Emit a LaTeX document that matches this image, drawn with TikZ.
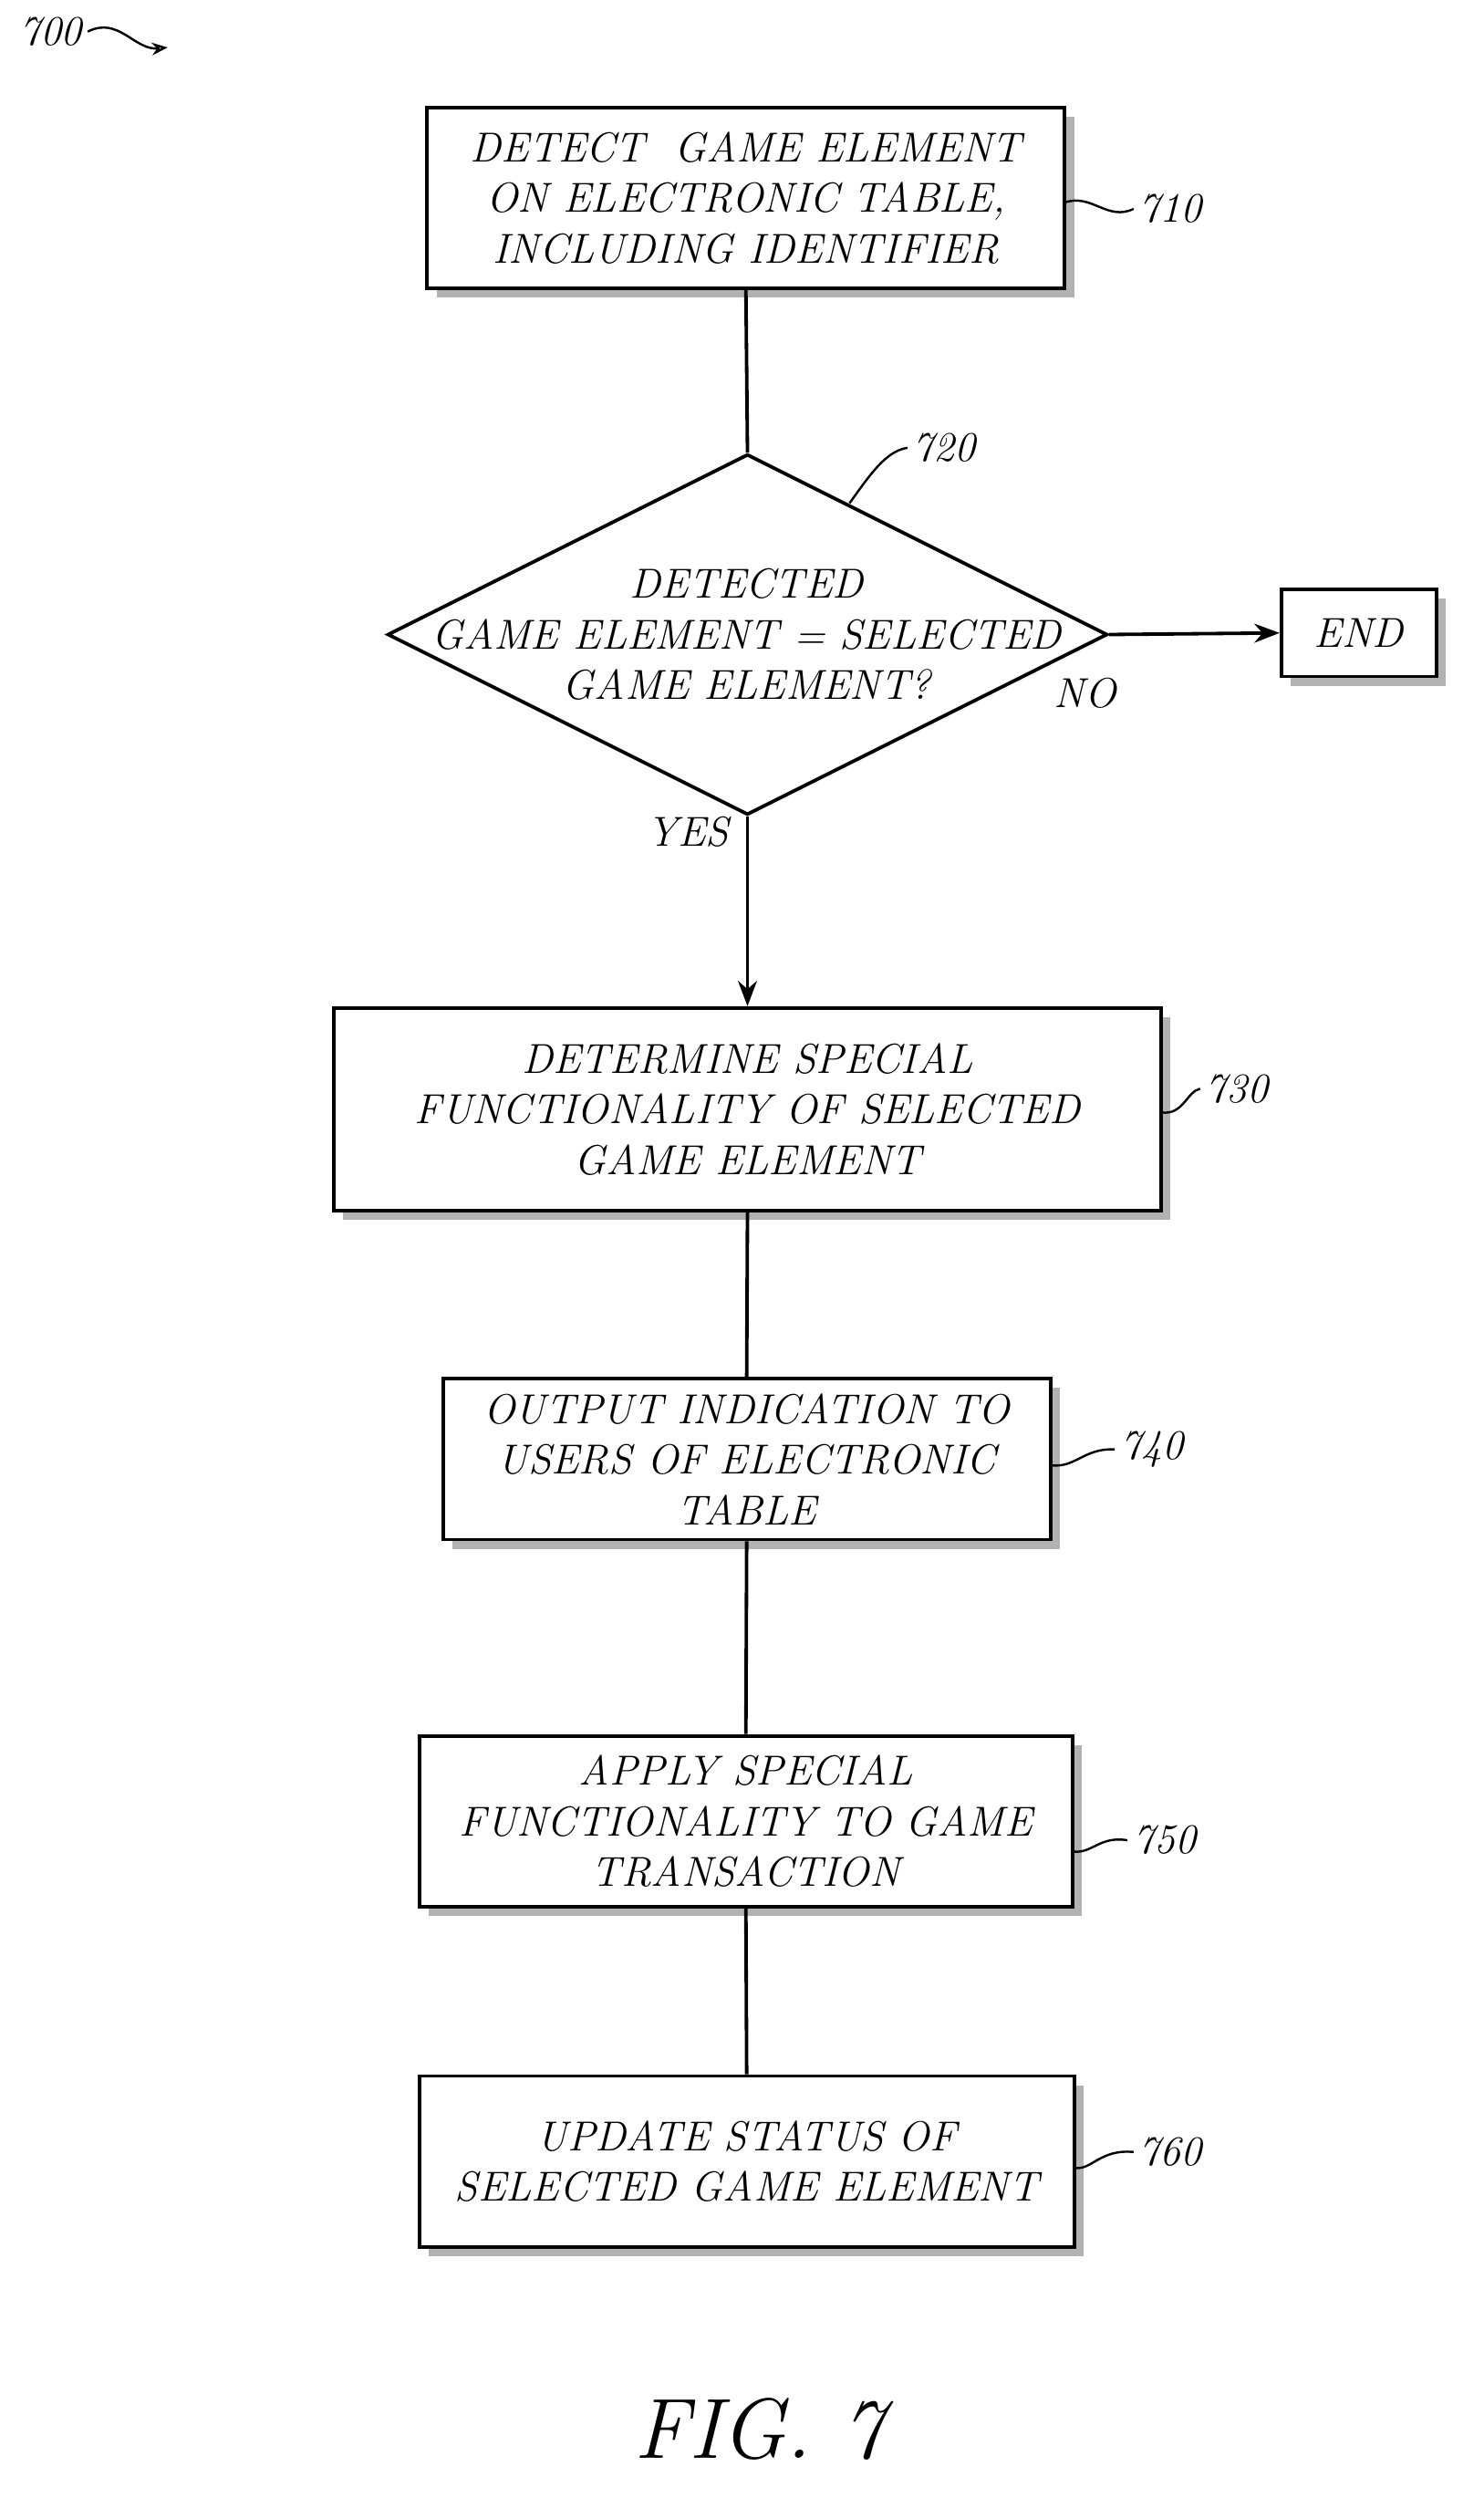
\documentclass[tikz,border=0pt]{standalone}
\usetikzlibrary{shapes.geometric,arrows.meta,shadows}
\begin{document}
\begin{tikzpicture}[x=1pt,y=-1pt,
  txt/.style={font=\fontsize{26.5}{32}\selectfont\itshape},
  box/.style={draw,line width=2.2pt,fill=white,align=center,txt,inner sep=0pt,
    drop shadow={shadow xshift=6pt,shadow yshift=-6pt,fill=gray!60,opacity=1}},
  lbl/.style={txt},
  lead/.style={line width=1.4pt},
  conn/.style={line width=2.2pt},
  arr/.style={conn,-{Stealth[length=16pt,width=12pt]}}]
\useasboundingbox (0,0) rectangle (938,1585);
\node[box,minimum width=403pt,minimum height=114pt] (b710) at (471.5,125) {DETECT\ \ GAME ELEMENT\\ON ELECTRONIC TABLE,\\INCLUDING IDENTIFIER};
\node[draw,line width=2.2pt,diamond,minimum width=455pt,minimum height=228pt,inner sep=0pt,aspect=2] (d720) at (472.5,401) {};
\node[txt,align=center] at (472,401) {DETECTED\\GAME ELEMENT = SELECTED\\GAME ELEMENT?};
\node[box,minimum width=98pt,minimum height=55pt] (end) at (859,400) {END};
\node[box,minimum width=523pt,minimum height=128pt] (b730) at (472.5,701) {DETERMINE SPECIAL\\FUNCTIONALITY OF SELECTED\\GAME ELEMENT};
\node[box,minimum width=384pt,minimum height=102pt] (b740) at (472,922) {OUTPUT INDICATION TO\\USERS OF ELECTRONIC\\TABLE};
\node[box,minimum width=413pt,minimum height=108pt] (b750) at (471.5,1151) {APPLY SPECIAL\\FUNCTIONALITY TO GAME\\TRANSACTION};
\node[box,minimum width=414pt,minimum height=108pt] (b760) at (472,1366) {UPDATE STATUS OF\\SELECTED GAME ELEMENT};
\draw[conn] (b710.south) -- (d720.north);
\draw[arr] (d720.east) -- (end.west);
\draw[arr] (d720.south) -- (b730.north);
\draw[conn] (b730.south) -- (b740.north);
\draw[conn] (b740.south) -- (b750.north);
\draw[conn] (b750.south) -- (b760.north);
\node[txt] (no) at (686,438) {NO};
\node[txt] (yes) at (435,526) {YES};
\node[lbl] (l710) at (740,132) {710};
\draw[lead] (673,128) .. controls (690,122) and (700,140) .. (l710.west);
\node[lbl] (l720) at (597,283) {720};
\draw[lead] (537,318) .. controls (550,300) and (560,285) .. (l720.west);
\node[lbl] (l730) at (782,688) {730};
\draw[lead] (734,703) .. controls (748,705) and (750,690) .. (l730.west);
\node[lbl] (l740) at (728,916) {740};
\draw[lead] (664,926) .. controls (680,928) and (685,915) .. (l740.west);
\node[lbl] (l750) at (736,1163) {750};
\draw[lead] (678,1170) .. controls (690,1172) and (695,1160) .. (l750.west);
\node[lbl] (l760) at (740,1360) {760};
\draw[lead] (679,1370) .. controls (690,1372) and (695,1358) .. (l760.west);
\node[lbl] (l700) at (32,20) {700};
\coordinate (a700) at (106,30);
\draw[lead,-{Stealth[length=10pt,width=8pt,open]}] (l700.east) .. controls (75,10) and (85,32) .. (a700);
\node[font=\fontsize{54}{60}\selectfont\itshape] (fig) at (480,1535) {FIG. 7};
\end{tikzpicture}
\end{document}
